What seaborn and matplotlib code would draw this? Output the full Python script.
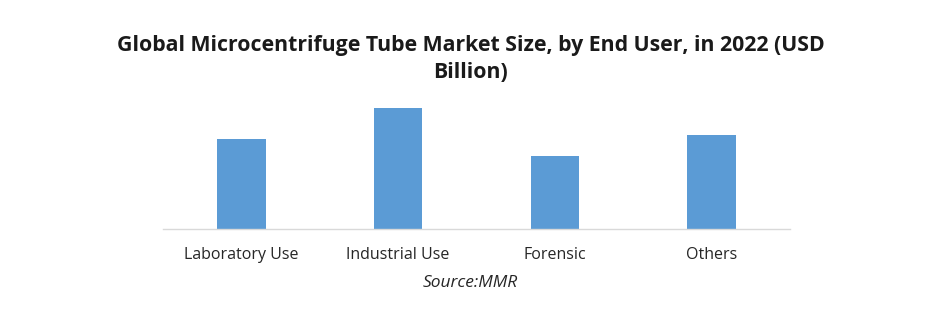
import matplotlib
matplotlib.use("Agg")
import matplotlib.pyplot as plt
import seaborn as sns
import pandas as pd

categories = ["Laboratory Use", "Industrial Use", "Forensic", "Others"]
values = [2.71, 3.64, 2.20, 2.83]
title = "Global Microcentrifuge Tube Market Size, by End User, in 2022 (USD\nBillion)"
source = "Source:MMR"

sns.set_theme(style="white")
plt.rcParams['font.family'] = ['Open Sans', 'DejaVu Sans']

df = pd.DataFrame({"cat": categories, "val": values})

fig = plt.figure(figsize=(9.41, 3.14), dpi=100)
ax = fig.add_axes([163/941, 1-229/314, 627/941, 129/314])
sns.barplot(data=df, x="cat", y="val", color="#5B9BD5", width=0.31, saturation=1,
            linewidth=0, ax=ax)
ax.set_xlim(-0.5, 3.5)
ax.set_ylim(0, 3.64*129/121)
for s in ["top", "right", "left"]:
    ax.spines[s].set_visible(False)
ax.spines["bottom"].set_color("#D9D9D9")
ax.spines["bottom"].set_linewidth(1)
ax.set_yticks([])
ax.set_xlabel("")
ax.set_ylabel("")
ax.tick_params(axis="x", length=0, labelsize=11.5, labelcolor="#262626", pad=13)

fig.text(0.5, 1-59/314, title, ha="center", va="center", fontsize=15.3, fontweight="bold",
         color="#1a1a1a", linespacing=1.42)
fig.text(0.5, 1-283/314, source, ha="center", va="center", fontsize=12.5, style="italic", color="#262626")

fig.savefig("out.png", dpi=100, facecolor="white")
